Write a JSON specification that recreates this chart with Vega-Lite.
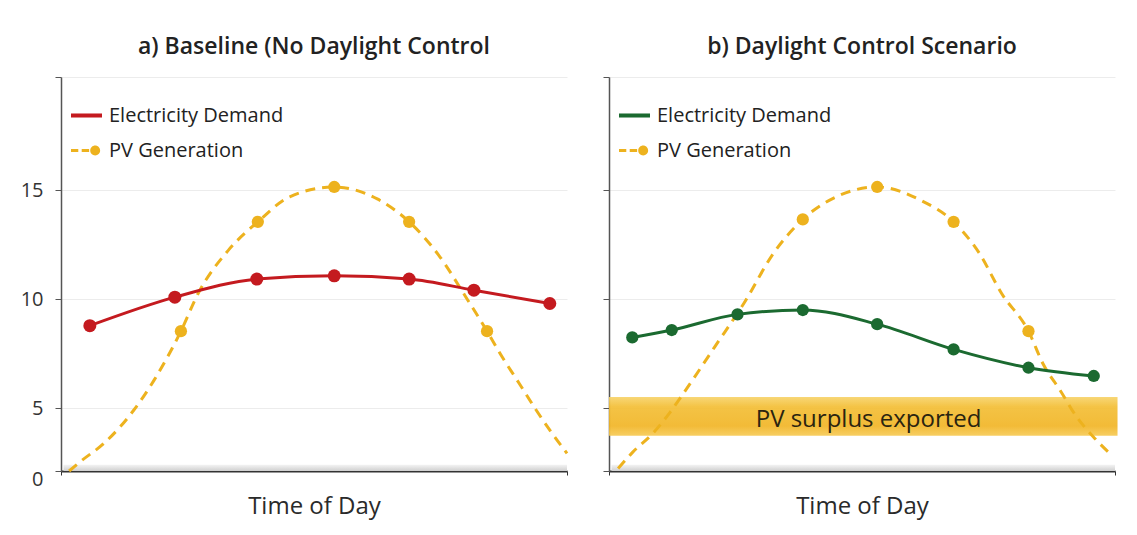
{
  "$schema": "https://vega.github.io/schema/vega-lite/v6.json",
  "background": "white",
  "padding": {"left": 20, "top": 35, "right": 10, "bottom": 8},
  "config": {
    "font": "Open Sans",
    "view": {"stroke": null},
    "title": {"fontSize": 23, "fontWeight": 600, "color": "#222222", "offset": 18, "anchor": "middle", "font": "Open Sans"},
    "axis": {"labelFont": "Open Sans", "titleFont": "Open Sans"}
  },
  "datasets": {
    "strip": [{"t": 0.5, "t2": 100, "v": 0, "v2": 0.5}],
    "band": [{"t": 0, "t2": 100.5, "v": 2.8, "v2": 5.5}],
    "band_label": [{"t": 51.3, "v": 4.05, "label": "PV surplus exported"}],
    "a_dem": [
      {"series": "Electricity Demand", "t": 5.7, "v": 8.78},
      {"series": "Electricity Demand", "t": 22.5, "v": 10.09},
      {"series": "Electricity Demand", "t": 38.7, "v": 10.92},
      {"series": "Electricity Demand", "t": 54.0, "v": 11.07},
      {"series": "Electricity Demand", "t": 68.8, "v": 10.92},
      {"series": "Electricity Demand", "t": 81.6, "v": 10.41},
      {"series": "Electricity Demand", "t": 96.6, "v": 9.80}
    ],
    "a_pv": [
      {"t": 1.6, "v": 0, "m": 0},
      {"t": 4.0, "v": 0.8, "m": 0},
      {"t": 8.5, "v": 2.2, "m": 0},
      {"t": 14.4, "v": 4.84, "m": 0},
      {"t": 18.4, "v": 6.28, "m": 0},
      {"t": 23.7, "v": 8.53, "m": 1},
      {"t": 27.1, "v": 10.26, "m": 0},
      {"t": 33.1, "v": 12.25, "m": 0},
      {"t": 38.9, "v": 13.55, "m": 1},
      {"t": 45.2, "v": 14.7, "m": 0},
      {"t": 54.0, "v": 15.15, "m": 1},
      {"t": 62.5, "v": 14.6, "m": 0},
      {"t": 68.8, "v": 13.55, "m": 1},
      {"t": 74.7, "v": 12.0, "m": 0},
      {"t": 80.0, "v": 10.1, "m": 0},
      {"t": 84.2, "v": 8.53, "m": 1},
      {"t": 87.2, "v": 7.34, "m": 0},
      {"t": 90.5, "v": 6.15, "m": 0},
      {"t": 93.9, "v": 4.84, "m": 0},
      {"t": 97.0, "v": 3.02, "m": 0},
      {"t": 100, "v": 1.4, "m": 0}
    ],
    "b_dem": [
      {"series": "Electricity Demand", "t": 4.6, "v": 8.24},
      {"series": "Electricity Demand", "t": 12.4, "v": 8.58},
      {"series": "Electricity Demand", "t": 25.4, "v": 9.30},
      {"series": "Electricity Demand", "t": 38.3, "v": 9.50},
      {"series": "Electricity Demand", "t": 53.0, "v": 8.85},
      {"series": "Electricity Demand", "t": 68.1, "v": 7.69},
      {"series": "Electricity Demand", "t": 82.9, "v": 6.85},
      {"series": "Electricity Demand", "t": 95.8, "v": 6.47}
    ],
    "b_pv": [
      {"t": 1.8, "v": 0.2, "m": 0},
      {"t": 4.7, "v": 1.5, "m": 0},
      {"t": 8.7, "v": 3.0, "m": 0},
      {"t": 12.1, "v": 4.68, "m": 0},
      {"t": 14.5, "v": 5.6, "m": 0},
      {"t": 20.9, "v": 7.81, "m": 0},
      {"t": 26.7, "v": 9.82, "m": 0},
      {"t": 32.5, "v": 12.1, "m": 0},
      {"t": 38.3, "v": 13.66, "m": 1},
      {"t": 45.6, "v": 14.77, "m": 0},
      {"t": 53.0, "v": 15.15, "m": 1},
      {"t": 61.6, "v": 14.54, "m": 0},
      {"t": 68.1, "v": 13.55, "m": 1},
      {"t": 73.2, "v": 12.1, "m": 0},
      {"t": 77.6, "v": 10.26, "m": 0},
      {"t": 82.9, "v": 8.53, "m": 1},
      {"t": 85.8, "v": 7.02, "m": 0},
      {"t": 89.1, "v": 5.83, "m": 0},
      {"t": 92.4, "v": 4.31, "m": 0},
      {"t": 95.7, "v": 2.72, "m": 0},
      {"t": 99.3, "v": 1.27, "m": 0}
    ]
  },
  "spacing": 29,
  "resolve": {"scale": {"color": "independent", "shape": "independent", "x": "independent", "y": "independent"}, "legend": {"color": "independent", "shape": "independent"}},
  "hconcat": [
    {
      "width": 506,
      "height": 394,
      "title": {"text": "a) Baseline (No Daylight Control"},
      "layer": [
        {
          "data": {"name": "strip"},
          "mark": {"type": "rect", "color": {"gradient": "linear", "x1": 0, "y1": 1, "x2": 0, "y2": 0, "stops": [{"offset": 0, "color": "#cfcfcf"}, {"offset": 1, "color": "#f4f4f4"}]}},
          "encoding": {
            "x": {"field": "t", "type": "quantitative", "scale": {"domain": [0, 100], "nice": false, "zero": false},
                  "axis": {"title": "Time of Day", "titleFontSize": 24, "titleFontWeight": "normal", "titleColor": "#2a2a2a", "titlePadding": 19, "labels": false, "values": [0, 100], "tickSize": 4, "tickColor": "#333333", "domainColor": "#333333", "domainWidth": 2, "grid": false}},
            "x2": {"field": "t2"},
            "y": {"field": "v", "type": "quantitative", "scale": {"domain": [0, 5, 20.2], "range": [394, 331, 0], "nice": false, "zero": false},
                  "axis": {"title": null, "values": [0, 5, 10, 15, 20.2], "labelExpr": "datum.value > 20 ? '' : datum.label", "labelFontSize": 20, "labelColor": "#333333", "labelPadding": 12, "labelOffset": {"condition": {"test": "datum.value == 0", "value": 8}, "value": 0}, "tickSize": 6, "tickColor": "#555555", "domainColor": "#555555", "domainWidth": 1.5, "grid": true, "gridColor": "#ececec"}},
            "y2": {"field": "v2"}
          }
        },
        {
          "data": {"name": "a_pv"},
          "mark": {"type": "line", "color": "#edb21e", "strokeWidth": 3, "strokeDash": [10, 7], "interpolate": "monotone"},
          "encoding": {"x": {"field": "t", "type": "quantitative"}, "y": {"field": "v", "type": "quantitative"}}
        },
        {
          "data": {"name": "a_pv"},
          "transform": [{"filter": "datum.m == 1"}],
          "mark": {"type": "circle", "color": "#edb21e", "size": 150, "opacity": 1},
          "encoding": {"x": {"field": "t", "type": "quantitative"}, "y": {"field": "v", "type": "quantitative"}}
        },
        {
          "data": {"name": "a_dem"},
          "mark": {"type": "line", "color": "#c41a1f", "strokeWidth": 3, "interpolate": "monotone"},
          "encoding": {"x": {"field": "t", "type": "quantitative"}, "y": {"field": "v", "type": "quantitative"}}
        },
        {
          "data": {"name": "a_dem"},
          "mark": {"type": "circle", "color": "#c41a1f", "size": 169, "opacity": 1},
          "encoding": {"x": {"field": "t", "type": "quantitative"}, "y": {"field": "v", "type": "quantitative"}}
        },
        {
          "data": {"name": "a_dem"},
          "transform": [{"filter": "false"}],
          "mark": {"type": "point", "filled": true},
          "encoding": {
            "x": {"field": "t", "type": "quantitative"},
            "y": {"field": "v", "type": "quantitative"},
            "color": {"field": "series", "type": "nominal",
                      "scale": {"domain": ["Electricity Demand", "PV Generation"], "range": ["#c41a1f", "#edb21e"]},
                      "legend": {"title": null, "orient": "none", "legendX": 10, "legendY": 23, "padding": 0, "symbolSize": 961, "symbolStrokeWidth": 0, "symbolOpacity": 1, "labelFontSize": 20, "labelColor": "#222222", "labelFont": "Open Sans", "labelOffset": 7, "labelLimit": 400, "rowPadding": 9}},
            "shape": {"field": "series", "type": "nominal",
                      "scale": {"domain": ["Electricity Demand", "PV Generation"], "range": ["M-1,-0.13H1V0.13H-1Z", "M-1,-0.1H-0.53V0.1H-1Z M-0.31,-0.1H0.17V0.1H-0.31Z M0.24,0A0.32,0.32 0 1,0 0.88,0A0.32,0.32 0 1,0 0.24,0Z"]},
                      "legend": {"title": null, "orient": "none", "legendX": 10, "legendY": 23, "padding": 0, "symbolSize": 961, "symbolStrokeWidth": 0, "symbolOpacity": 1, "labelFontSize": 20, "labelColor": "#222222", "labelFont": "Open Sans", "labelOffset": 7, "labelLimit": 400, "rowPadding": 9}}
          }
        }
      ]
    },
    {
      "width": 506,
      "height": 394,
      "title": {"text": "b) Daylight Control Scenario"},
      "layer": [
        {
          "data": {"name": "strip"},
          "mark": {"type": "rect", "color": {"gradient": "linear", "x1": 0, "y1": 1, "x2": 0, "y2": 0, "stops": [{"offset": 0, "color": "#cfcfcf"}, {"offset": 1, "color": "#f4f4f4"}]}},
          "encoding": {
            "x": {"field": "t", "type": "quantitative", "scale": {"domain": [0, 100], "nice": false, "zero": false},
                  "axis": {"title": "Time of Day", "titleFontSize": 24, "titleFontWeight": "normal", "titleColor": "#2a2a2a", "titlePadding": 19, "labels": false, "values": [0, 100], "tickSize": 4, "tickColor": "#333333", "domainColor": "#333333", "domainWidth": 2, "grid": false}},
            "x2": {"field": "t2"},
            "y": {"field": "v", "type": "quantitative", "scale": {"domain": [0, 5, 20.2], "range": [394, 331, 0], "nice": false, "zero": false},
                  "axis": {"title": null, "values": [0, 5, 10, 15, 20.2], "labels": false, "tickSize": 6, "tickColor": "#555555", "domainColor": "#555555", "domainWidth": 1.5, "grid": true, "gridColor": "#ececec"}},
            "y2": {"field": "v2"}
          }
        },
        {
          "data": {"name": "band"},
          "mark": {"type": "rect", "opacity": 0.92, "color": {"gradient": "linear", "x1": 0, "y1": 0, "x2": 0, "y2": 1, "stops": [{"offset": 0, "color": "#f7d36a"}, {"offset": 0.25, "color": "#f3be35"}, {"offset": 0.75, "color": "#f1b526"}, {"offset": 1, "color": "#f6ca55"}]}},
          "encoding": {"x": {"field": "t", "type": "quantitative"}, "x2": {"field": "t2"}, "y": {"field": "v", "type": "quantitative"}, "y2": {"field": "v2"}}
        },
        {
          "data": {"name": "band_label"},
          "mark": {"type": "text", "fontSize": 24, "fontWeight": 500, "color": "#2a2410", "font": "Open Sans", "align": "center", "baseline": "middle"},
          "encoding": {"x": {"field": "t", "type": "quantitative"}, "y": {"field": "v", "type": "quantitative"}, "text": {"field": "label"}}
        },
        {
          "data": {"name": "b_pv"},
          "mark": {"type": "line", "color": "#edb21e", "strokeWidth": 3, "strokeDash": [10, 7], "interpolate": "monotone"},
          "encoding": {"x": {"field": "t", "type": "quantitative"}, "y": {"field": "v", "type": "quantitative"}}
        },
        {
          "data": {"name": "b_pv"},
          "transform": [{"filter": "datum.m == 1"}],
          "mark": {"type": "circle", "color": "#edb21e", "size": 150, "opacity": 1},
          "encoding": {"x": {"field": "t", "type": "quantitative"}, "y": {"field": "v", "type": "quantitative"}}
        },
        {
          "data": {"name": "b_dem"},
          "mark": {"type": "line", "color": "#1b6a30", "strokeWidth": 3, "interpolate": "monotone"},
          "encoding": {"x": {"field": "t", "type": "quantitative"}, "y": {"field": "v", "type": "quantitative"}}
        },
        {
          "data": {"name": "b_dem"},
          "mark": {"type": "circle", "color": "#1b6a30", "size": 150, "opacity": 1},
          "encoding": {"x": {"field": "t", "type": "quantitative"}, "y": {"field": "v", "type": "quantitative"}}
        },
        {
          "data": {"name": "b_dem"},
          "transform": [{"filter": "false"}],
          "mark": {"type": "point", "filled": true},
          "encoding": {
            "x": {"field": "t", "type": "quantitative"},
            "y": {"field": "v", "type": "quantitative"},
            "color": {"field": "series", "type": "nominal",
                      "scale": {"domain": ["Electricity Demand", "PV Generation"], "range": ["#1b6a30", "#edb21e"]},
                      "legend": {"title": null, "orient": "none", "legendX": 10, "legendY": 23, "padding": 0, "symbolSize": 961, "symbolStrokeWidth": 0, "symbolOpacity": 1, "labelFontSize": 20, "labelColor": "#222222", "labelFont": "Open Sans", "labelOffset": 7, "labelLimit": 400, "rowPadding": 9}},
            "shape": {"field": "series", "type": "nominal",
                      "scale": {"domain": ["Electricity Demand", "PV Generation"], "range": ["M-1,-0.13H1V0.13H-1Z", "M-1,-0.1H-0.53V0.1H-1Z M-0.31,-0.1H0.17V0.1H-0.31Z M0.24,0A0.32,0.32 0 1,0 0.88,0A0.32,0.32 0 1,0 0.24,0Z"]},
                      "legend": {"title": null, "orient": "none", "legendX": 10, "legendY": 23, "padding": 0, "symbolSize": 961, "symbolStrokeWidth": 0, "symbolOpacity": 1, "labelFontSize": 20, "labelColor": "#222222", "labelFont": "Open Sans", "labelOffset": 7, "labelLimit": 400, "rowPadding": 9}}
          }
        }
      ]
    }
  ]
}
